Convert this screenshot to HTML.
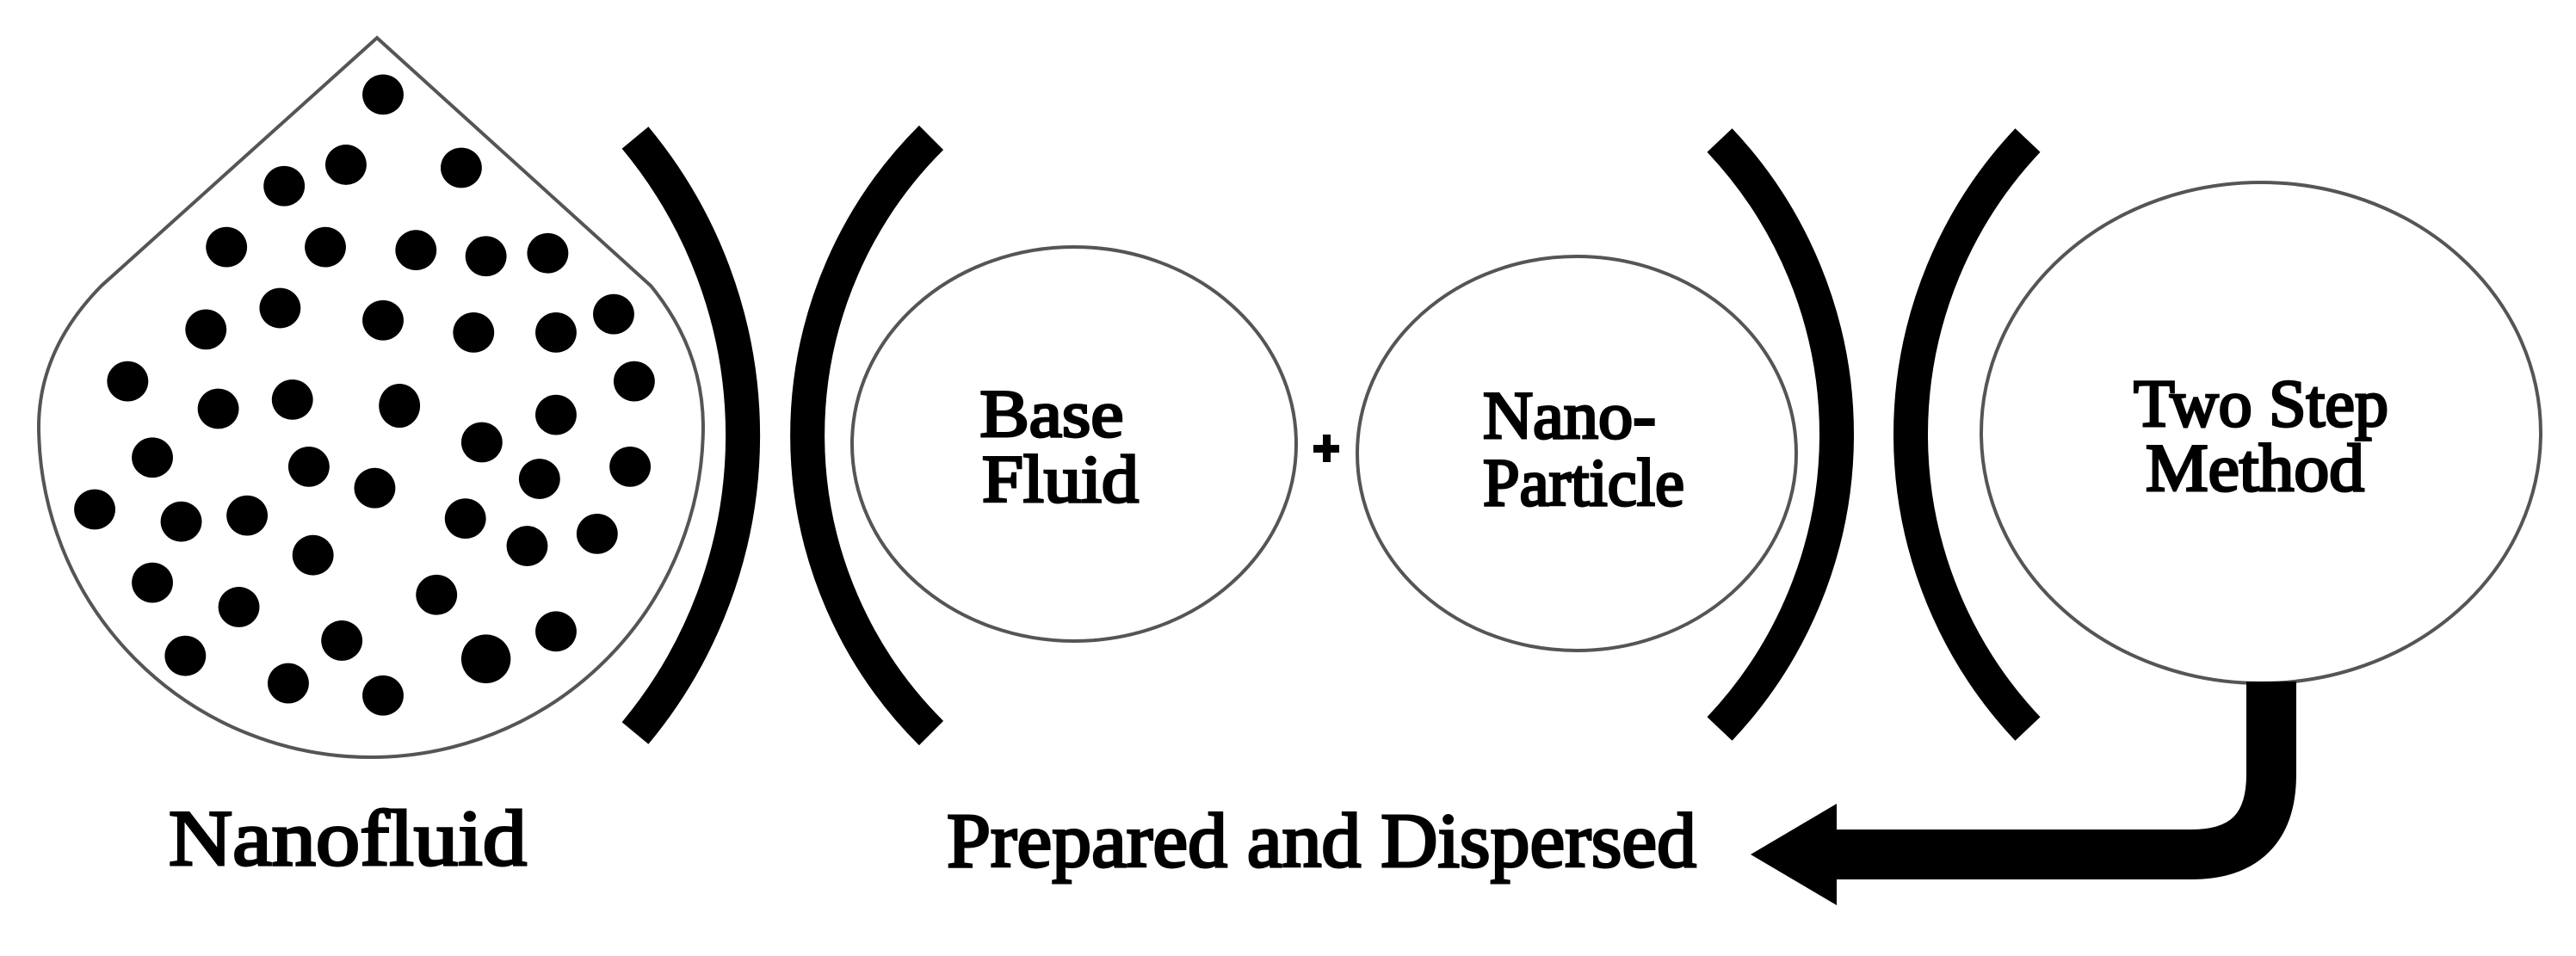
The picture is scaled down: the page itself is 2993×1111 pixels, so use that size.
<!DOCTYPE html>
<html><head><meta charset="utf-8"><style>html,body{margin:0;padding:0;background:#fff;}svg{display:block}</style></head>
<body>
<svg width="2993" height="1111" viewBox="0 0 2993 1111" xmlns="http://www.w3.org/2000/svg">
<rect width="2993" height="1111" fill="#fff"/>
<!-- drop -->
<path d="M438,44 L118,332 Q46,405 45,494 A386,386 0 0 0 817,494 Q816,405 756,332 Z" fill="#fff" stroke="#555" stroke-width="4"/>
<g transform="scale(0.957,0.709)" fill="#000">
<ellipse cx="465" cy="155" rx="25" ry="33"/><ellipse cx="420" cy="270" rx="25" ry="33"/><ellipse cx="560" cy="275" rx="25" ry="33"/><ellipse cx="345" cy="305" rx="25" ry="33"/><ellipse cx="275" cy="405" rx="25" ry="33"/><ellipse cx="395" cy="405" rx="25" ry="33"/><ellipse cx="505" cy="410" rx="25" ry="33"/><ellipse cx="590" cy="420" rx="25" ry="33"/><ellipse cx="665" cy="415" rx="25" ry="33"/><ellipse cx="340" cy="505" rx="25" ry="33"/><ellipse cx="465" cy="525" rx="25" ry="33"/><ellipse cx="575" cy="545" rx="25" ry="33"/><ellipse cx="675" cy="545" rx="25" ry="33"/><ellipse cx="745" cy="515" rx="25" ry="33"/><ellipse cx="250" cy="540" rx="25" ry="33"/><ellipse cx="155" cy="625" rx="25" ry="33"/><ellipse cx="265" cy="670" rx="25" ry="33"/><ellipse cx="355" cy="655" rx="25" ry="33"/><ellipse cx="485" cy="665" rx="25" ry="36"/><ellipse cx="770" cy="625" rx="25" ry="33"/><ellipse cx="675" cy="680" rx="25" ry="33"/><ellipse cx="585" cy="725" rx="25" ry="33"/><ellipse cx="185" cy="750" rx="25" ry="33"/><ellipse cx="375" cy="765" rx="25" ry="33"/><ellipse cx="455" cy="800" rx="25" ry="33"/><ellipse cx="655" cy="785" rx="25" ry="33"/><ellipse cx="765" cy="765" rx="25" ry="33"/><ellipse cx="115" cy="835" rx="25" ry="33"/><ellipse cx="220" cy="855" rx="25" ry="33"/><ellipse cx="300" cy="845" rx="25" ry="33"/><ellipse cx="565" cy="850" rx="25" ry="33"/><ellipse cx="640" cy="895" rx="25" ry="33"/><ellipse cx="725" cy="875" rx="25" ry="33"/><ellipse cx="380" cy="910" rx="25" ry="33"/><ellipse cx="185" cy="955" rx="25" ry="33"/><ellipse cx="290" cy="995" rx="25" ry="33"/><ellipse cx="530" cy="975" rx="25" ry="33"/><ellipse cx="225" cy="1075" rx="25" ry="33"/><ellipse cx="415" cy="1050" rx="25" ry="33"/><ellipse cx="590" cy="1080" rx="30" ry="40"/><ellipse cx="675" cy="1035" rx="25" ry="33"/><ellipse cx="350" cy="1120" rx="25" ry="33"/><ellipse cx="465" cy="1140" rx="25" ry="33"/>
</g>
<!-- brackets -->
<g fill="none" stroke="#000" stroke-width="40">
<path d="M738,160 A541,541 0 0 1 738,852"/>
<path d="M1082,160 A488,488 0 0 0 1082,852"/>
<path d="M1998,163 A498,498 0 0 1 1998,847"/>
<path d="M2356,163 A498,498 0 0 0 2356,847"/>
</g>
<!-- circles -->
<g fill="none" stroke="#555" stroke-width="4">
<ellipse cx="1248" cy="516" rx="258" ry="229"/>
<ellipse cx="1832" cy="527" rx="255" ry="229"/>
<ellipse cx="2627" cy="503" rx="325" ry="291"/>
</g>
<!-- plus -->
<rect x="1526" y="517" width="30" height="9" fill="#000"/>
<rect x="1537" y="505" width="9" height="32" fill="#000"/>
<!-- arrow -->
<path d="M2639,792 L2639,900 Q2639,993 2546,993 L2128,993" fill="none" stroke="#000" stroke-width="58"/>
<polygon points="2034,993 2134,934 2134,1052" fill="#000"/>
<!-- text -->
<g font-family="'Liberation Serif', serif" fill="#000" stroke="#000" stroke-width="3">
<text x="1222" y="507" font-size="78" text-anchor="middle" textLength="167" lengthAdjust="spacingAndGlyphs">Base</text>
<text x="1232" y="583" font-size="78" text-anchor="middle" textLength="182" lengthAdjust="spacingAndGlyphs">Fluid</text>
<text x="1723" y="509" font-size="78" textLength="201" lengthAdjust="spacingAndGlyphs">Nano-</text>
<text x="1723" y="587" font-size="78" textLength="234" lengthAdjust="spacingAndGlyphs">Particle</text>
<text x="2479" y="495" font-size="78" textLength="296" lengthAdjust="spacingAndGlyphs">Two Step</text>
<text x="2493" y="570" font-size="78" textLength="254" lengthAdjust="spacingAndGlyphs">Method</text>
<text x="196" y="1005" font-size="92" textLength="416" lengthAdjust="spacingAndGlyphs">Nanofluid</text>
<text x="1100" y="1007" font-size="90" textLength="871" lengthAdjust="spacingAndGlyphs">Prepared and Dispersed</text>
</g>
</svg>
</body></html>
